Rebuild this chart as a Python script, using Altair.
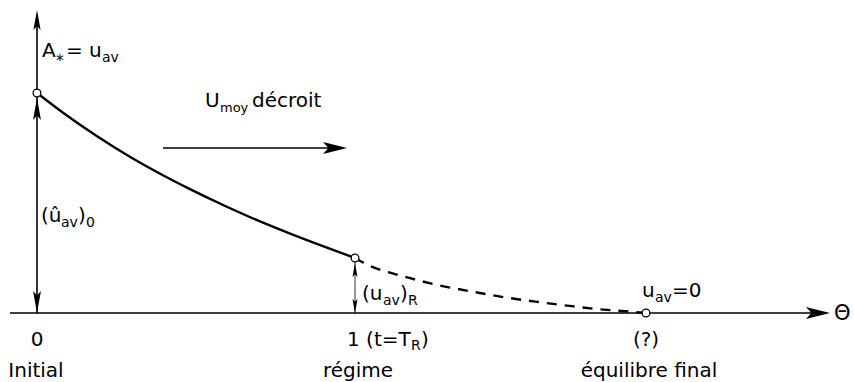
import altair as alt
import pandas as pd

# Reduced time Θ = t / T_R and mean amplitude u_av (normalised to its initial value)
theta_solid = [0.0, 0.082, 0.189, 0.292, 0.396, 0.481, 0.585, 0.692, 0.796, 0.899, 1.0]
u_solid = [1.0, 0.910, 0.803, 0.710, 0.626, 0.563, 0.491, 0.422, 0.361, 0.304, 0.25]

# Extrapolated decay after the régime point, down to the final equilibrium
theta_dashed = [1.0, 1.038, 1.154, 1.258, 1.377, 1.481, 1.582, 1.682, 1.761, 1.849, 1.915]
u_dashed = [0.25, 0.220, 0.166, 0.128, 0.095, 0.069, 0.049, 0.031, 0.018, 0.008, 0.0]

# Characteristic states on the Θ axis
theta_states = [0.0, 1.0, 1.915]
u_states = [1.0, 0.25, 0.0]
state_names = ["Initial", "régime", "équilibre final"]
state_shift = [-1, 3, 3]

W, H = 854, 382
FONT = "DejaVu Sans"
X0, XU = 37, 318      # pixel of Θ = 0, pixels per unit of Θ
Y0, YU = 313, 220     # pixel of u = 0, pixels per unit of u

xs = alt.Scale(domain=[-X0 / XU, (W - X0) / XU], nice=False, zero=False)
ys = alt.Scale(domain=[-(H - Y0) / YU, Y0 / YU], nice=False, zero=False)


def tx(px):
    return (px - X0) / XU


def uy(py):
    return (Y0 - py) / YU


def X(field="x"):
    return alt.X(f"{field}:Q", scale=xs, axis=None)


def Y(field="y"):
    return alt.Y(f"{field}:Q", scale=ys, axis=None)


solid = pd.DataFrame({"x": theta_solid, "y": u_solid})
dashed = pd.DataFrame({"x": theta_dashed, "y": u_dashed})
states = pd.DataFrame({"x": theta_states, "y": u_states, "name": state_names, "dx": state_shift})

curve = alt.Chart(solid).mark_line(color="black", strokeWidth=2.4, interpolate="monotone").encode(x=X(), y=Y())
curve_ext = alt.Chart(dashed).mark_line(
    color="black", strokeWidth=2.4, strokeDash=[10, 8], interpolate="monotone"
).encode(x=X(), y=Y())

# Axes and the drift arrow, as plain segments
segments = pd.DataFrame({
    "x": [tx(10), 0.0, tx(163), 1.0],
    "x2": [tx(818), 0.0, tx(335), 1.0],
    "y": [0.0, 0.0, uy(148), 0.0],
    "y2": [0.0, uy(16), uy(148), 0.25],
    "w": [1.6, 1.6, 1.6, 0.8],
})
lines = alt.Chart(segments).mark_rule(color="black").encode(
    x=X(), x2="x2:Q", y=Y(), y2="y2:Q", strokeWidth=alt.StrokeWidth("w:Q", scale=None)
)

# Arrowheads: tip position in pixels, direction angle, length
WIDE = "M0,-1L0.5,1L0,0.55L-0.5,1Z"
NARROW = "M0,-1L0.36,1L0,0.6L-0.36,1Z"


def heads(rows, path):
    recs = []
    for px, py, ang, length in rows:
        dx = {0: 0, 90: 1, 180: 0}[ang]
        dy = {0: -1, 90: 0, 180: 1}[ang]
        cx = px - dx * length / 2
        cy = py - dy * length / 2
        recs.append({"x": tx(cx), "y": uy(cy), "a": ang, "s": length ** 2})
    return alt.Chart(pd.DataFrame(recs)).mark_point(
        shape=path, filled=True, color="black", opacity=1, strokeWidth=0
    ).encode(
        x=X(), y=Y(),
        angle=alt.Angle("a:Q", scale=None),
        size=alt.Size("s:Q", scale=None),
    )


wide_heads = heads([(830, 313, 90, 24), (347, 148, 90, 24)], WIDE)
narrow_heads = heads([
    (37, 10, 0, 20),
    (37, 98, 0, 22),
    (37, 313, 180, 22),
    (355, 263, 0, 14),
    (355, 313, 180, 14),
], NARROW)

circles = alt.Chart(states).mark_point(
    shape="circle", filled=True, fill="white", stroke="black", strokeWidth=1.3, size=60, opacity=1
).encode(x=X(), y=Y())

state_text = alt.Chart(states).transform_calculate(
    xs_shift="datum.x + datum.dx / %f" % XU
).mark_text(font=FONT, fontSize=20, baseline="alphabetic").encode(
    x=X("xs_shift"), y=alt.value(377), text="name:N"
)


def label(text, px, py, size=20, align="left"):
    return alt.Chart(pd.DataFrame({"t": [text]})).mark_text(
        font=FONT, fontSize=size, align=align, baseline="alphabetic", color="black"
    ).encode(x=alt.value(px), y=alt.value(py), text="t:N")


texts = [
    # A* = u_av
    label("A", 42, 57), label("*", 56, 66, 15), label("= u", 66, 57), label("av", 102, 62, 14),
    # U_moy décroit
    label("U", 205, 107), label("moy", 220, 112, 13), label("décroit", 252, 107),
    # (û_av)_0
    label("(û", 41, 222), label("av", 61, 227, 14), label(")", 78, 222), label("0", 86, 227, 14),
    # (u_av)_R
    label("(u", 362, 300), label("av", 383, 305, 14), label(")", 400, 300), label("R", 408, 305, 14),
    # u_av = 0
    label("u", 642, 297), label("av", 655, 302, 14), label("=0", 672, 297),
    # Θ-axis ticks
    label("0", 37, 346, align="center"),
    label("1 (t=T", 347, 346), label("R", 411, 350, 14), label(")", 421, 346),
    label("(?)", 646, 346, align="center"),
    label("Θ", 834, 320, 21),
]

chart = alt.layer(
    lines, curve, curve_ext, wide_heads, narrow_heads, circles, state_text, *texts
).properties(
    width=W, height=H, autosize=alt.AutoSizeParams(type="none"), padding=0
).configure_view(stroke=None)

chart.save("out.html", embed_options={"renderer": "svg", "actions": False})
